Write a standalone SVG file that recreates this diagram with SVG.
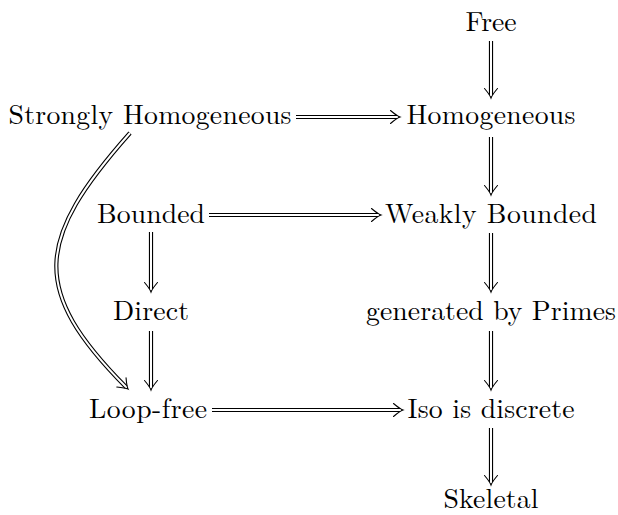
<svg xmlns="http://www.w3.org/2000/svg" width="618" height="515" viewBox="0 0 618 515">
<style>
text{font-family:"Latin Modern Roman","Liberation Serif",serif;font-size:27.7px;fill:#000;text-anchor:middle}
.o{fill:none;stroke:#000;stroke-width:4.2;marker-end:url(#ah)}
.i{fill:none;stroke:#fff;stroke-width:2}
</style>
<defs>
<marker id="ah" markerUnits="userSpaceOnUse" orient="auto" markerWidth="20" markerHeight="20" refX="0" refY="0" viewBox="-12 -10 20 20" overflow="visible">
<path d="M-6.5,-6.5 Q0,-1 3,0 Q0,1 -6.5,6.5" fill="none" stroke="#000" stroke-width="1.1" stroke-linecap="round"/>
</marker>
</defs>
<rect width="618" height="515" fill="#fff"/>
<g id="connectors">
<path class="o" d="M491,41 V95"/><path class="i" d="M491,41 V95.5"/>
<path class="o" d="M491,137 V192"/><path class="i" d="M491,137 V192.5"/>
<path class="o" d="M491,233 V289"/><path class="i" d="M491,233 V289.5"/>
<path class="o" d="M491,331 V387"/><path class="i" d="M491,331 V387.5"/>
<path class="o" d="M491,428 V482"/><path class="i" d="M491,428 V482.5"/>
<path class="o" d="M296,117 H397"/><path class="i" d="M296,117 H397.5"/>
<path class="o" d="M209,215 H378"/><path class="i" d="M209,215 H378.5"/>
<path class="o" d="M212,410 H400"/><path class="i" d="M212,410 H400.5"/>
<path class="o" d="M151,232 V289"/><path class="i" d="M151,232 V289.5"/>
<path class="o" d="M151,331 V387"/><path class="i" d="M151,331 V387.5"/>
<path class="o" d="M130,133 C35,240 30,290 126,387"/><path class="i" d="M130,133 C35,240 30,290 126,387"/>
</g>
<g id="free"><text x="491" y="30.5" textLength="51">Free</text></g>
<g id="homogeneous"><text x="491" y="124" textLength="169">Homogeneous</text></g>
<g id="strongly"><text x="150" y="124" textLength="283">Strongly Homogeneous</text></g>
<g id="bounded"><text x="151" y="223" textLength="108">Bounded</text></g>
<g id="weakly"><text x="491" y="223" textLength="212">Weakly Bounded</text></g>
<g id="direct"><text x="151" y="320" textLength="76">Direct</text></g>
<g id="primes"><text x="491" y="320" textLength="250">generated by Primes</text></g>
<g id="loopfree"><text x="148" y="418" textLength="118">Loop-free</text></g>
<g id="iso"><text x="491" y="418" textLength="167">Iso is discrete</text></g>
<g id="skeletal"><text x="491" y="507.5" textLength="95">Skeletal</text></g>
</svg>
